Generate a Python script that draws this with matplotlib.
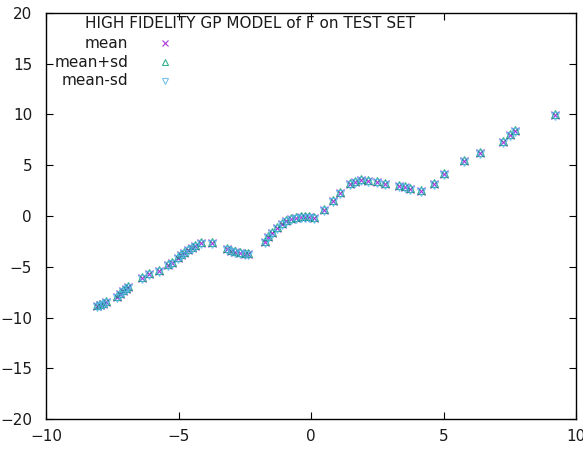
import numpy as np
import matplotlib
matplotlib.use("Agg")
from matplotlib import pyplot as plt

# test-set inputs and GP predicted mean
x_test = [-8.08, -7.96, -7.85, -7.74, -7.32, -7.21, -7.09, -6.98, -6.91,
          -6.38, -6.11, -5.74, -5.40, -5.25, -5.02, -4.91, -4.79, -4.64,
          -4.49, -4.38, -4.15, -3.74, -3.17, -3.02, -2.87, -2.68, -2.49,
          -2.38, -1.74, -1.62, -1.47, -1.28, -1.09, -0.94, -0.75, -0.57,
          -0.38, -0.23, -0.08, 0.11, 0.49, 0.83, 1.09, 1.47, 1.66, 1.89,
          2.15, 2.49, 2.79, 3.32, 3.55, 3.74, 4.15, 4.64, 5.02, 5.77,
          6.38, 7.25, 7.51, 7.70, 9.21]
mean = [-8.87, -8.77, -8.67, -8.47, -7.98, -7.68, -7.39, -7.19, -7.00,
        -6.11, -5.71, -5.42, -4.83, -4.63, -4.14, -3.84, -3.65, -3.35,
        -3.15, -2.96, -2.66, -2.66, -3.25, -3.45, -3.55, -3.65, -3.74,
        -3.74, -2.56, -2.07, -1.67, -1.18, -0.79, -0.49, -0.30, -0.20,
        -0.10, -0.10, -0.10, -0.20, 0.59, 1.48, 2.27, 3.15, 3.35, 3.55,
        3.45, 3.35, 3.15, 2.96, 2.86, 2.66, 2.46, 3.15, 4.14, 5.42,
        6.21, 7.29, 7.98, 8.37, 9.95]
# predictive standard deviation is tiny everywhere on this set
sd = [0.06] * len(mean)

x_ticks = [-10, -5, 0, 5, 10]
y_ticks = [-20, -15, -10, -5, 0, 5, 10, 15, 20]

mean = np.array(mean)
sd = np.array(sd)
series = [
    ("mean", mean, "x", "#9400d3"),
    ("mean+sd", mean + sd, "^", "#009e73"),
    ("mean-sd", mean - sd, "v", "#56b4e9"),
]

plt.rcParams["font.family"] = "DejaVu Sans"
plt.rcParams["font.size"] = 11
plt.rcParams["text.color"] = "#1a1a1a"

fig = plt.figure(figsize=(5.83, 4.49), dpi=100)
ax = fig.add_axes([46 / 583, 30 / 449, 530 / 583, 406 / 449])

for i, (name, vals, mk, col) in enumerate(series):
    ax.plot(x_test, vals, linestyle="none", marker=mk, markersize=5.5,
            markerfacecolor="none", markeredgecolor=col, markeredgewidth=0.8,
            alpha=0.8)
    # gnuplot-style key: right-aligned label, sample to its right
    ky = 0.925 - i * 0.046
    ax.text(0.155, ky, name, transform=ax.transAxes, ha="right", va="center")
    ax.plot([0.225], [ky], transform=ax.transAxes, linestyle="none",
            marker=mk, markersize=5, markerfacecolor="none",
            markeredgecolor=col, markeredgewidth=0.8, alpha=0.8)

ax.text(0.385, 0.975, "HIGH FIDELITY GP MODEL of F on TEST SET",
        transform=ax.transAxes, ha="center", va="center")

ax.set_xlim(-10, 10)
ax.set_ylim(-20, 20)
ax.set_xticks(x_ticks)
ax.set_yticks(y_ticks)
ax.tick_params(direction="in", length=5, width=0.8, top=True, right=True,
               labelcolor="#1a1a1a")
ax.tick_params(axis="x", pad=7)
ax.tick_params(axis="y", pad=10)
for s in ax.spines.values():
    s.set_linewidth(1.0)

fig.savefig("out.png", dpi=100)
